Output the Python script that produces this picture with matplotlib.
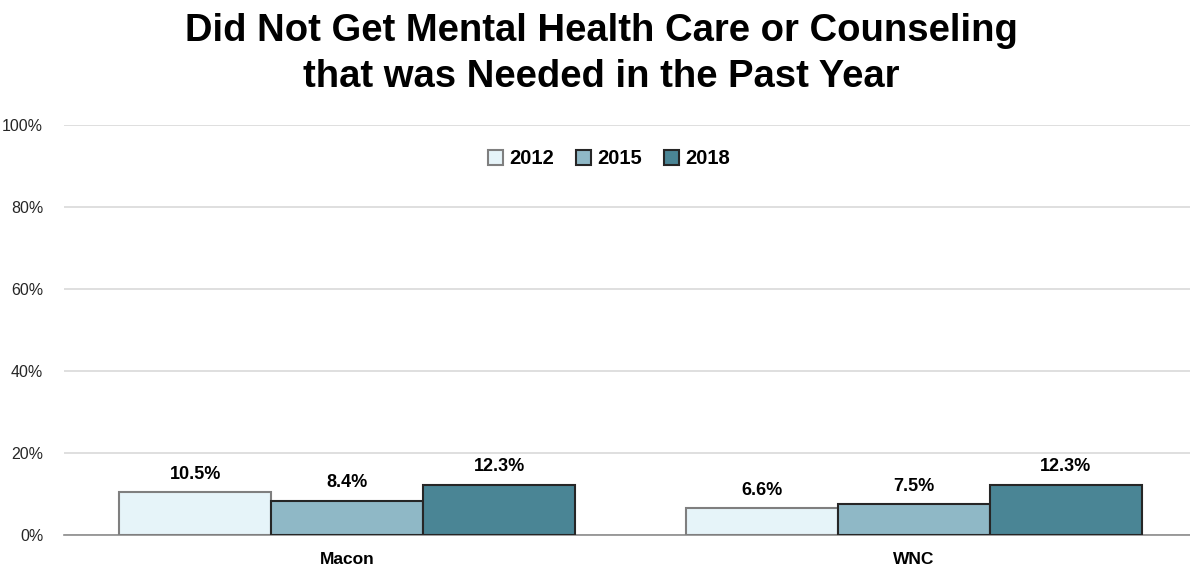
import matplotlib
matplotlib.use("Agg")
import matplotlib.pyplot as plt
import numpy as np
from matplotlib import font_manager

names = {f.name for f in font_manager.fontManager.ttflist}
narrow = "Liberation Sans Narrow" if "Liberation Sans Narrow" in names else "Liberation Sans"

categories = ["Macon", "WNC"]
years = ["2012", "2015", "2018"]
values_2012 = [10.5, 6.6]
values_2015 = [8.4, 7.5]
values_2018 = [12.3, 12.3]
yticks = [0, 20, 40, 60, 80, 100]
ytick_labels = ["0%", "20%", "40%", "60%", "80%", "100%"]

series = [values_2012, values_2015, values_2018]
colors = ["#E6F4F9", "#8FB8C6", "#4A8595"]
edges = ["#7F7F7F", "#262626", "#262626"]

W, H = 1190, 571
fig = plt.figure(figsize=(W / 100, H / 100), dpi=100)
ax = fig.add_axes([64 / W, 1 - 535 / H, 1133 / W, 410 / H])

x = np.arange(len(categories))
bw = 0.2686
for i, (vals, c, e) in enumerate(zip(series, colors, edges)):
    pos = x + (i - 1) * bw
    ax.bar(pos, vals, width=bw, color=c, edgecolor=e, linewidth=1.5,
           label=years[i], zorder=3)
    for p, v in zip(pos, vals):
        ax.text(p, v + 2.3, f"{v:.1f}%", ha="center", va="bottom",
                fontsize=13, fontweight="bold", family=narrow, color="#000000")

ax.set_xlim(-0.5, 1.5)
ax.set_ylim(0, 100)
ax.set_yticks(yticks)
ax.set_yticklabels(ytick_labels, family=narrow, fontsize=11.5, color="#262626")
ax.set_xticks(x)
ax.set_xticklabels(categories, family=narrow, fontsize=12.5, fontweight="bold")
ax.tick_params(axis="both", length=0)
ax.tick_params(axis="y", pad=15)
ax.tick_params(axis="x", pad=12)
ax.grid(axis="y", color="#D9D9D9", linewidth=1.2, zorder=0)
for s in ["top", "right", "left"]:
    ax.spines[s].set_visible(False)
ax.spines["bottom"].set_color("#8C8C8C")
ax.spines["bottom"].set_linewidth(1.2)

leg = ax.legend(loc="upper center", bbox_to_anchor=(545 / 1133, 0.985), ncol=3,
                frameon=False, handlelength=0.75, handleheight=0.75,
                handletextpad=0.3, columnspacing=1.1,
                prop={"family": narrow, "size": 14.5, "weight": "bold"})

fig.text(601 / W, 1 - 54 / H, "Did Not Get Mental Health Care or Counseling\nthat was Needed in the Past Year",
         ha="center", va="center", fontsize=27.5, fontweight="bold",
         family="Liberation Sans", linespacing=1.35)

fig.savefig("out.png", dpi=100, facecolor="white")
